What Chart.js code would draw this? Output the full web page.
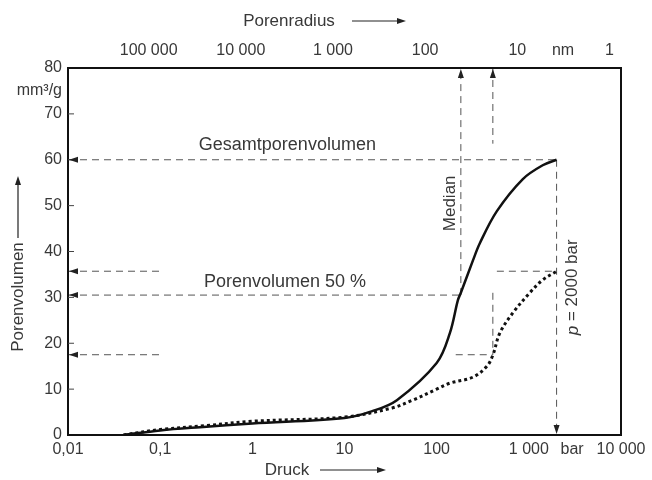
<!DOCTYPE html>
<html lang="de">
<head>
<meta charset="UTF-8">
<title>Porenvolumen über Druck</title>
<script src="https://cdn.jsdelivr.net/npm/chart.js"></script>
<style>
  body { margin: 0; background: #fff; }
  #wrap { width: 652px; height: 480px; }
</style>
</head>
<body>
<div id="wrap"><canvas id="chart" width="652" height="480"></canvas></div>
<script>
// Druck (bar) und Porenvolumen (mm3/g)
const pressureSolid = [0.04, 0.1, 0.27, 1, 10, 20, 37, 100, 139, 170, 183, 247, 294, 450, 861, 1413, 2000];
const volumeSolid   = [0, 1.0, 1.7, 2.5, 3.7, 5.2, 7.6, 15.7, 22.2, 29.4, 31, 38.0, 41.8, 48.8, 55.8, 58.8, 60];

const pressureDotted = [0.04, 0.1, 0.3, 1, 10, 33, 55, 100, 139, 247, 351, 407, 484, 670, 1023, 1413, 2000];
const volumeDotted   = [0, 1.2, 2.0, 3.0, 3.9, 5.9, 7.6, 10.0, 11.3, 12.6, 15.0, 17.4, 22.2, 26.6, 31, 33.8, 35.7];

// Hilfslinien
const totalVolume = 60;
const halfVolume = 30.5;
const totalVolumeDotted = 35.7;
const halfVolumeDotted = 17.5;
const medianPressure = 183;
const medianPressureDotted = 407;
const maxPressure = 2000;

// Achsen
const pressureTicks  = [0.01, 0.1, 1, 10, 100, 1000, 2950, 10000];
const pressureLabels = ['0,01', '0,1', '1', '10', '100', '1 000', 'bar', '10 000'];
const radiusTicks  = [0.075, 0.75, 7.5, 75, 750, 2350, 7500];
const radiusLabels = ['100 000', '10 000', '1 000', '100', '10', 'nm', '1'];
const volumeTicks = [0, 10, 20, 30, 40, 50, 60, 70, 80];

const FONT = '"Liberation Sans", Arial, sans-serif';
const TEXT = '#383838';
const GUIDE = '#555';

function pts(xs, ys) {
  return xs.map((x, i) => ({ x: x, y: ys[i] }));
}

function guide(data) {
  return {
    data: data,
    borderColor: GUIDE,
    borderWidth: 1,
    borderDash: [7, 5],
    pointRadius: 0,
    tension: 0
  };
}

function arrowHead(ctx, x, y, dir) {
  const len = 9, half = 3;
  ctx.beginPath();
  if (dir === 'left') { ctx.moveTo(x, y); ctx.lineTo(x + len, y - half); ctx.lineTo(x + len, y + half); }
  if (dir === 'right') { ctx.moveTo(x, y); ctx.lineTo(x - len, y - half); ctx.lineTo(x - len, y + half); }
  if (dir === 'up') { ctx.moveTo(x, y); ctx.lineTo(x - half, y + len); ctx.lineTo(x + half, y + len); }
  if (dir === 'down') { ctx.moveTo(x, y); ctx.lineTo(x - half, y - len); ctx.lineTo(x + half, y - len); }
  ctx.closePath();
  ctx.fill();
}

const annotations = {
  id: 'annotations',
  afterDatasetsDraw(chart) {
    const ctx = chart.ctx;
    const xs = chart.scales.x, ys = chart.scales.y;
    const a = chart.chartArea;
    const px = v => xs.getPixelForValue(v);
    const py = v => ys.getPixelForValue(v);
    ctx.save();

    // Rahmen
    ctx.strokeStyle = '#111';
    ctx.lineWidth = 2;
    ctx.strokeRect(a.left, a.top, a.right - a.left, a.bottom - a.top);

    // innere Teilstriche links
    ctx.lineWidth = 1;
    ctx.strokeStyle = '#444';
    volumeTicks.slice(1, -1).forEach(v => {
      ctx.beginPath();
      ctx.moveTo(a.left, py(v));
      ctx.lineTo(a.left + 6, py(v));
      ctx.stroke();
    });

    // Pfeilspitzen der Hilfslinien
    ctx.fillStyle = '#222';
    [totalVolume, halfVolume, totalVolumeDotted, halfVolumeDotted].forEach(v => arrowHead(ctx, a.left + 1, py(v), 'left'));
    arrowHead(ctx, px(medianPressure), a.top + 1, 'up');
    arrowHead(ctx, px(medianPressureDotted), a.top + 1, 'up');
    arrowHead(ctx, px(maxPressure), a.bottom - 1, 'down');

    // Texte im Diagramm
    ctx.fillStyle = TEXT;
    ctx.font = '18px ' + FONT;
    ctx.textAlign = 'center';
    ctx.textBaseline = 'middle';
    ctx.fillText('Gesamtporenvolumen', px(2.4), py(63.3));
    ctx.fillText('Porenvolumen 50 %', px(2.26), py(33.3));

    ctx.font = '17px ' + FONT;
    ctx.save();
    ctx.translate(px(139), py(50.5));
    ctx.rotate(-Math.PI / 2);
    ctx.fillText('Median', 0, 0);
    ctx.restore();

    ctx.save();
    ctx.translate(px(3000), py(32.2));
    ctx.rotate(-Math.PI / 2);
    ctx.textAlign = 'left';
    const w1 = ctx.measureText(' = 2000 bar').width;
    ctx.font = 'italic 17px ' + FONT;
    const w0 = ctx.measureText('p').width;
    const start = -(w0 + w1) / 2;
    ctx.fillText('p', start, 0);
    ctx.font = '17px ' + FONT;
    ctx.fillText(' = 2000 bar', start + w0, 0);
    ctx.restore();

    // Einheit
    ctx.textAlign = 'right';
    ctx.font = '16px ' + FONT;
    ctx.fillText('mm³/g', a.left - 6, py(75.0));

    // Achsentitel mit Pfeilen
    ctx.textAlign = 'center';
    ctx.font = '17px ' + FONT;
    ctx.fillText('Porenradius', 289, 21);
    ctx.fillText('Druck', 287, 470);
    ctx.save();
    ctx.translate(18, 297);
    ctx.rotate(-Math.PI / 2);
    ctx.fillText('Porenvolumen', 0, 0);
    ctx.restore();

    ctx.strokeStyle = '#222';
    ctx.lineWidth = 1.2;
    ctx.beginPath();
    ctx.moveTo(352, 21); ctx.lineTo(400, 21);
    ctx.moveTo(320, 470); ctx.lineTo(380, 470);
    ctx.moveTo(18, 238); ctx.lineTo(18, 182);
    ctx.stroke();
    ctx.fillStyle = '#222';
    arrowHead(ctx, 406, 21, 'right');
    arrowHead(ctx, 386, 470, 'right');
    arrowHead(ctx, 18, 176, 'up');

    ctx.restore();
  }
};

new Chart(document.getElementById('chart'), {
  type: 'line',
  data: {
    datasets: [
      {
        data: pts(pressureSolid, volumeSolid),
        borderColor: '#111',
        borderWidth: 2.5,
        pointRadius: 0,
        tension: 0.35
      },
      {
        data: pts(pressureDotted, volumeDotted),
        borderColor: '#111',
        borderWidth: 3,
        borderDash: [3, 3],
        pointRadius: 0,
        tension: 0.35
      },
      guide([{ x: 0.01, y: totalVolume }, { x: maxPressure, y: totalVolume }]),
      guide([{ x: 0.01, y: halfVolume }, { x: medianPressure, y: halfVolume }]),
      guide([{ x: 0.01, y: totalVolumeDotted }, { x: 0.1, y: totalVolumeDotted }]),
      guide([{ x: 0.01, y: halfVolumeDotted }, { x: 0.1, y: halfVolumeDotted }]),
      guide([{ x: 450, y: totalVolumeDotted }, { x: maxPressure, y: totalVolumeDotted }]),
      guide([{ x: 161, y: halfVolumeDotted }, { x: medianPressureDotted, y: halfVolumeDotted }]),
      guide([{ x: medianPressure, y: halfVolume }, { x: medianPressure, y: 80 }]),
      guide([{ x: medianPressureDotted, y: 80 }, { x: medianPressureDotted, y: 63.5 }]),
      guide([{ x: medianPressureDotted, y: 31 }, { x: medianPressureDotted, y: halfVolumeDotted }]),
      guide([{ x: maxPressure, y: totalVolume }, { x: maxPressure, y: 0 }])
    ]
  },
  options: {
    responsive: false,
    animation: false,
    layout: { padding: { left: 0, right: 31, top: 0, bottom: 0 } },
    plugins: { legend: { display: false }, tooltip: { enabled: false } },
    scales: {
      x: {
        type: 'logarithmic',
        position: 'bottom',
        min: 0.01,
        max: 10000,
        afterBuildTicks: s => { s.ticks = pressureTicks.map(v => ({ value: v })); },
        afterFit: s => { s.height = 45; },
        grid: { display: false, drawTicks: false },
        border: { display: false },
        ticks: {
          autoSkip: false,
          maxRotation: 0,
          padding: 5,
          color: TEXT,
          font: { family: FONT, size: 16 },
          callback: (v, i) => pressureLabels[i]
        }
      },
      x2: {
        type: 'logarithmic',
        position: 'top',
        min: 0.01,
        max: 10000,
        afterBuildTicks: s => { s.ticks = radiusTicks.map(v => ({ value: v })); },
        afterFit: s => { s.height = 68; },
        grid: { display: false, drawTicks: false },
        border: { display: false },
        ticks: {
          autoSkip: false,
          maxRotation: 0,
          padding: 8,
          color: TEXT,
          font: { family: FONT, size: 16 },
          callback: (v, i) => radiusLabels[i]
        }
      },
      y: {
        min: 0,
        max: 80,
        afterBuildTicks: s => { s.ticks = volumeTicks.map(v => ({ value: v })); },
        afterFit: s => { s.width = 68; },
        grid: { display: false, drawTicks: false },
        border: { display: false },
        ticks: {
          padding: 6,
          color: TEXT,
          font: { family: FONT, size: 16 }
        }
      }
    }
  },
  plugins: [annotations]
});
</script>
</body>
</html>
